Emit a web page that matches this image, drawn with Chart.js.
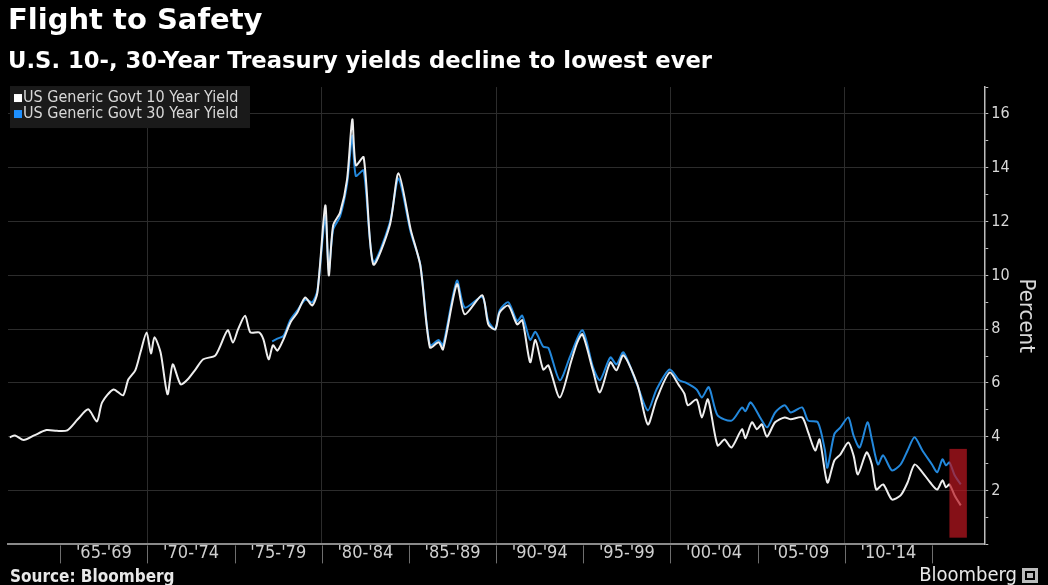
<!DOCTYPE html>
<html>
<head>
<meta charset="utf-8">
<script src="https://cdn.jsdelivr.net/npm/chart.js@4.4.1/dist/chart.umd.min.js"></script>
<style>
  html, body { margin: 0; padding: 0; background: #000; }
  #wrap { width: 1048px; height: 585px; }
</style>
</head>
<body>
<div id="wrap"><canvas id="yieldChart" width="1048" height="585"></canvas></div>
<script>
const tenYearDates = [1962.1, 1962.4, 1962.9, 1963.5, 1964.2, 1964.8, 1965.4, 1966.0, 1966.6, 1967.1, 1967.4, 1968.05, 1968.6, 1968.9, 1969.3, 1969.6, 1969.95, 1970.2, 1970.4, 1970.75, 1971.15, 1971.45, 1971.9, 1972.3, 1972.75, 1973.2, 1973.9, 1974.6, 1974.9, 1975.2, 1975.6, 1975.9, 1976.4, 1976.65, 1976.95, 1977.2, 1977.45, 1977.8, 1978.2, 1978.6, 1979.05, 1979.45, 1979.75, 1980.2, 1980.4, 1980.65, 1981.05, 1981.45, 1981.75, 1981.95, 1982.4, 1982.95, 1983.9, 1984.4, 1985.1, 1985.65, 1986.2, 1986.7, 1986.95, 1987.75, 1988.2, 1989.2, 1989.55, 1989.95, 1990.2, 1990.7, 1991.2, 1991.5, 1991.95, 1992.25, 1992.7, 1993.0, 1993.65, 1994.3, 1994.65, 1994.95, 1995.55, 1995.95, 1996.55, 1996.9, 1997.3, 1998.1, 1998.7, 1999.2, 1999.95, 2000.5, 2000.8, 2001.0, 2001.5, 2001.8, 2002.15, 2002.7, 2003.1, 2003.5, 2004.1, 2004.3, 2004.67, 2004.96, 2005.24, 2005.53, 2006.0, 2006.55, 2006.9, 2007.55, 2007.9, 2008.3, 2008.55, 2009.0, 2009.4, 2009.75, 2010.2, 2010.5, 2010.75, 2011.25, 2011.55, 2011.8, 2012.2, 2012.7, 2013.2, 2013.6, 2014.0, 2014.45, 2014.9, 2015.3, 2015.6, 2015.8, 2016.0, 2016.3, 2016.65];
const tenYear = [3.98, 4.05, 3.88, 4.05, 4.25, 4.22, 4.24, 4.65, 5.02, 4.57, 5.28, 5.76, 5.54, 6.13, 6.47, 7.14, 7.88, 7.1, 7.7, 7.14, 5.58, 6.69, 5.95, 6.13, 6.5, 6.88, 7.03, 7.96, 7.5, 8.0, 8.5, 7.88, 7.88, 7.62, 6.88, 7.4, 7.2, 7.62, 8.25, 8.62, 9.18, 8.88, 9.37, 12.6, 10.0, 11.86, 12.34, 13.57, 15.8, 14.09, 14.39, 10.41, 11.86, 13.8, 11.7, 10.37, 7.32, 7.51, 7.25, 9.67, 8.55, 9.26, 8.18, 7.99, 8.62, 8.88, 8.18, 8.33, 6.77, 7.6, 6.5, 6.65, 5.46, 6.8, 7.5, 7.81, 6.47, 5.65, 6.77, 6.47, 7.03, 5.95, 4.46, 5.39, 6.39, 5.9, 5.6, 5.17, 5.39, 4.72, 5.39, 3.68, 3.9, 3.6, 4.28, 3.95, 4.54, 4.28, 4.46, 4.0, 4.54, 4.72, 4.65, 4.72, 4.16, 3.49, 3.9, 2.3, 3.12, 3.35, 3.79, 3.31, 2.6, 3.42, 2.97, 2.04, 2.23, 1.67, 1.82, 2.3, 2.97, 2.68, 2.3, 2.04, 2.38, 2.12, 2.23, 1.82, 1.45];

const thirtyYearDates = [1977.15, 1977.45, 1977.8, 1978.2, 1978.6, 1979.05, 1979.45, 1979.75, 1980.2, 1980.4, 1980.65, 1981.05, 1981.45, 1981.75, 1981.95, 1982.4, 1982.95, 1983.9, 1984.4, 1985.1, 1985.65, 1986.2, 1986.7, 1986.95, 1987.75, 1988.2, 1989.2, 1989.55, 1989.95, 1990.2, 1990.7, 1991.2, 1991.5, 1991.95, 1992.25, 1992.7, 1993.0, 1993.65, 1994.25, 1994.95, 1995.55, 1995.95, 1996.55, 1996.9, 1997.3, 1998.1, 1998.7, 1999.2, 1999.95, 2000.5, 2000.85, 2001.5, 2001.8, 2002.2, 2002.7, 2003.5, 2004.1, 2004.3, 2004.6, 2005.2, 2005.55, 2006.0, 2006.55, 2006.9, 2007.55, 2007.9, 2008.45, 2008.85, 2009.0, 2009.4, 2009.75, 2010.2, 2010.5, 2010.85, 2011.3, 2011.55, 2011.9, 2012.2, 2012.7, 2013.2, 2013.6, 2014.0, 2014.45, 2015.0, 2015.3, 2015.6, 2015.8, 2016.0, 2016.3, 2016.65];
const thirtyYear = [7.55, 7.65, 7.75, 8.35, 8.7, 9.1, 9.0, 9.45, 12.2, 10.2, 11.7, 12.2, 13.4, 15.2, 13.7, 13.9, 10.5, 11.95, 13.6, 11.6, 10.4, 7.4, 7.6, 7.4, 9.8, 8.8, 9.2, 8.3, 8.0, 8.7, 9.0, 8.3, 8.5, 7.6, 7.9, 7.35, 7.3, 6.1, 7.0, 7.96, 6.6, 6.1, 6.95, 6.69, 7.14, 5.91, 4.98, 5.76, 6.5, 6.1, 6.02, 5.76, 5.46, 5.84, 4.8, 4.6, 5.09, 4.95, 5.28, 4.65, 4.35, 4.9, 5.17, 4.9, 5.09, 4.6, 4.54, 3.53, 2.85, 4.1, 4.35, 4.72, 4.05, 3.6, 4.54, 3.9, 2.97, 3.31, 2.75, 2.97, 3.49, 3.98, 3.49, 2.97, 2.68, 3.16, 2.94, 3.05, 2.57, 2.23];

const periodTicks = [1965, 1967.5, 1970, 1972.5, 1975, 1977.5, 1980, 1982.5, 1985, 1987.5, 1990, 1992.5, 1995, 1997.5, 2000, 2002.5, 2005, 2007.5, 2010, 2012.5, 2015];
const periodLabels = ["'65-'69", "'70-'74", "'75-'79", "'80-'84", "'85-'89", "'90-'94", "'95-'99", "'00-'04", "'05-'09", "'10-'14"];

// shaded box marking the latest record lows
const highlightFrom = 2016.0;
const highlightTo = 2017.0;
const highlightTop = 3.55;
const highlightBottom = 0.25;

const narrowFont = '"DejaVu Sans Condensed", "Liberation Sans Narrow", "DejaVu Sans", sans-serif';
const gridColor = '#2c2c2c';

const legendBox = {
  id: 'legendBox',
  beforeDatasetsDraw(chart) {
    const { ctx, chartArea } = chart;
    ctx.save();
    ctx.fillStyle = '#1a1a1a';
    ctx.fillRect(chartArea.left + 2, chartArea.top - 1, 240, 42);
    ctx.font = '16px ' + narrowFont;
    ctx.textBaseline = 'middle';
    chart.data.datasets.forEach((ds, i) => {
      const y = chartArea.top + 11 + i * 16;
      ctx.fillStyle = ds.legendColor;
      ctx.fillRect(chartArea.left + 6, y - 4, 8, 8);
      ctx.fillStyle = '#d8d8d8';
      ctx.fillText(ds.label, chartArea.left + 15, y);
    });
    ctx.restore();
  }
};

const highlight = {
  id: 'highlight',
  afterDatasetsDraw(chart) {
    const { ctx, scales: { x, y } } = chart;
    const left = x.getPixelForValue(highlightFrom);
    const right = x.getPixelForValue(highlightTo);
    const top = y.getPixelForValue(highlightTop);
    const bottom = y.getPixelForValue(highlightBottom);
    ctx.save();
    ctx.fillStyle = 'rgba(185, 22, 32, 0.72)';
    ctx.fillRect(left, top, right - left, bottom - top);
    ctx.restore();
  }
};

// separators between the five-year period labels
const periodSeparators = {
  id: 'periodSeparators',
  afterDraw(chart) {
    const { ctx, chartArea, scales: { x } } = chart;
    ctx.save();
    ctx.strokeStyle = '#6e6e6e';
    ctx.lineWidth = 1;
    periodTicks.filter(v => v % 5 === 0).forEach(v => {
      const px = Math.round(x.getPixelForValue(v)) + 0.5;
      ctx.beginPath();
      ctx.moveTo(px, chartArea.bottom + 1);
      ctx.lineTo(px, chartArea.bottom + 19);
      ctx.stroke();
    });
    ctx.restore();
  }
};

const footer = {
  id: 'footer',
  afterDraw(chart) {
    const { ctx, width, height } = chart;
    ctx.save();
    ctx.textBaseline = 'middle';
    ctx.fillStyle = '#e8e8e8';
    ctx.font = 'bold 17px ' + narrowFont;
    ctx.textAlign = 'left';
    ctx.fillText('Source: Bloomberg', 10, height - 7);
    ctx.font = '20px ' + narrowFont;
    ctx.textAlign = 'right';
    ctx.fillText('Bloomberg', width - 31, height - 9);
    ctx.fillStyle = '#bbb';
    ctx.fillRect(width - 26, height - 17, 16, 15);
    ctx.fillStyle = '#000';
    ctx.fillRect(width - 23, height - 14, 10, 9);
    ctx.fillStyle = '#bbb';
    ctx.fillRect(width - 21, height - 12, 6, 5);
    ctx.restore();
  }
};

const ctx = document.getElementById('yieldChart');

const data = {
  datasets: [{
    label: 'US Generic Govt 10 Year Yield',
    data: tenYearDates.map((d, i) => ({ x: d, y: tenYear[i] })),
    borderColor: '#eeeeee',
    legendColor: '#ffffff',
    borderWidth: 2,
    pointRadius: 0,
    tension: 0.25
  }, {
    label: 'US Generic Govt 30 Year Yield',
    data: thirtyYearDates.map((d, i) => ({ x: d, y: thirtyYear[i] })),
    borderColor: '#2388dc',
    legendColor: '#1e90ff',
    borderWidth: 2,
    pointRadius: 0,
    tension: 0.25
  }]
};

const config = {
  type: 'line',
  data: data,
  plugins: [legendBox, highlight, periodSeparators, footer],
  options: {
    responsive: false,
    animation: false,
    devicePixelRatio: 1,
    layout: { padding: { left: 8, right: 7, top: 0, bottom: 23 } },
    plugins: {
      legend: { display: false },
      tooltip: { enabled: false },
      title: {
        display: true,
        text: 'Flight to Safety',
        align: 'start',
        color: '#ffffff',
        font: { family: 'DejaVu Sans', size: 29, weight: 'bold', lineHeight: 1.2 },
        padding: { top: 4, bottom: 4 }
      },
      subtitle: {
        display: true,
        text: 'U.S. 10-, 30-Year Treasury yields decline to lowest ever',
        align: 'start',
        color: '#ffffff',
        font: { family: 'DejaVu Sans', size: 22.7, weight: 'bold', lineHeight: 1.2 },
        padding: { top: 6, bottom: 11 }
      }
    },
    scales: {
      x: {
        type: 'linear',
        min: 1962,
        max: 2018,
        afterBuildTicks: (scale) => {
          scale.ticks = periodTicks.map(v => ({ value: v }));
        },
        ticks: {
          autoSkip: false,
          maxRotation: 0,
          padding: -2,
          color: '#cfcfcf',
          font: { family: narrowFont, size: 18 },
          callback: (v, i) => (i % 2 === 1) ? periodLabels[(i - 1) / 2] : ''
        },
        grid: {
          drawOnChartArea: true,
          drawTicks: false,
          color: (c) => (c.tick && c.tick.value % 10 === 0) ? gridColor : 'rgba(0,0,0,0)'
        },
        border: { display: true, color: '#8a8a8a', width: 2 }
      },
      y: {
        position: 'right',
        min: 0,
        max: 17,
        ticks: {
          stepSize: 1,
          padding: 3,
          color: '#d8d8d8',
          font: { family: narrowFont, size: 16 },
          callback: (v) => (v % 2 === 0 && v > 0) ? v : ''
        },
        grid: {
          tickLength: 4,
          color: (c) => (c.tick && c.tick.value % 2 === 0 && c.tick.value > 0) ? gridColor : 'rgba(0,0,0,0)',
          tickColor: '#bdbdbd'
        },
        border: { display: true, color: '#bdbdbd', width: 1.5 },
        title: {
          display: true,
          text: 'Percent',
          color: '#d8d8d8',
          font: { family: narrowFont, size: 22 },
          padding: { top: 2, bottom: 0 }
        }
      }
    }
  }
};

new Chart(ctx, config);
</script>
</body>
</html>
